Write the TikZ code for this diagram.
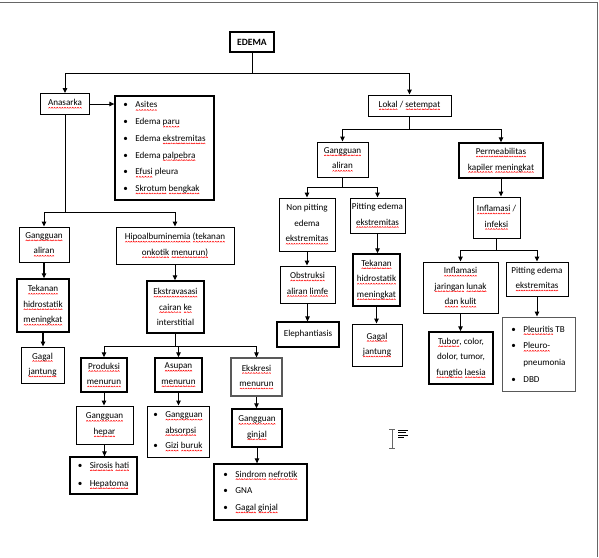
\documentclass[tikz,border=0pt]{standalone}
\usepackage{fontspec}
\setmainfont{Carlito}
\usetikzlibrary{arrows.meta}
\newsavebox\wavebox
\newsavebox\sqtext
\newcommand\sq[1]{\sbox\sqtext{#1}\leavevmode\rlap{\raisebox{-2.8pt}{\hbox to \wd\sqtext{\xleaders\copy\wavebox\hfill}}}\usebox\sqtext}
\newcommand\fsbox{\fontsize{9.1}{15.5}\selectfont}
\newcommand\fslist{\fontsize{9.1}{16.7}\selectfont}
\newcommand\bl[1]{\makebox[12pt][l]{\textbullet}#1}
\tikzset{
  box/.style={draw, line width=0.9pt, inner sep=1pt, align=center, font=\fsbox},
  tbox/.style={box, line width=1.5pt},
  gbox/.style={box, draw=black!65},
  lbox/.style={draw, line width=1.3pt, inner sep=1pt, align=left, font=\fslist},
  arr/.style={-{Triangle[length=5pt,width=4.5pt]}, line width=1pt},
  ln/.style={line width=1pt}
}
\begin{document}
\sbox\wavebox{\begin{pgfpicture}\pgfsetlinewidth{0.5pt}\pgfsetstrokecolor{red}\pgfpathmoveto{\pgfpoint{0pt}{0pt}}\pgfpathlineto{\pgfpoint{1pt}{1pt}}\pgfpathlineto{\pgfpoint{2pt}{0pt}}\pgfusepath{stroke}\end{pgfpicture}}%
\begin{tikzpicture}[x=1pt,y=-1pt]
\useasboundingbox (0,0) rectangle (599,557);
\fill[white] (0,0) rectangle (599,557);
\draw[black!60, line width=1.5pt] (0,2.5) -- (597.5,2.5) -- (597.5,557);

% left branch
\node[tbox, minimum width=44, minimum height=20, font=\fontsize{9.6}{12}\selectfont\bfseries] (edema) at (252,42) {EDEMA};
\node[box, minimum width=49, minimum height=21] (anasarka) at (65,104) {\sq{Anasarka}};
\node[lbox, minimum width=99, minimum height=104] (alist) at (164.5,148)
  {\bl{\sq{Asites}}\\\bl{Edema \sq{paru}}\\\bl{Edema \sq{ekstremitas}}\\\bl{Edema \sq{palpebra}}\\\bl{\sq{Efusi} pleura}\\\bl{\sq{Skrotum} \sq{bengkak}}};
\node[box, minimum width=50, minimum height=35] (galiL) at (44,244.5) {\sq{Gangguan}\\\sq{aliran}};
\node[tbox, minimum width=52, minimum height=53] (tekL) at (43,305.5) {\sq{Tekanan}\\\sq{hidrostatik}\\\sq{meningkat}};
\node[box, minimum width=43, minimum height=36] (gagL) at (42.5,365) {\sq{Gagal}\\\sq{jantung}};
\node[box, minimum width=118, minimum height=37] (hipo) at (175,245.5) {\sq{Hipoalbuminemia} \sq{(tekanan}\\\sq{onkotik} \sq{menurun)}};
\node[tbox, minimum width=57, minimum height=52] (ekstra) at (175.5,307) {\sq{Ekstravasasi}\\\sq{cairan} \sq{ke}\\interstitial};
\node[tbox, minimum width=46, minimum height=34] (prod) at (104,375) {\sq{Produksi}\\\sq{menurun}};
\node[tbox, minimum width=47, minimum height=34] (asup) at (178.5,375) {\sq{Asupan}\\\sq{menurun}};
\node[gbox, line width=1.2pt, minimum width=51, minimum height=38] (ekskr) at (256.5,377) {\sq{Ekskresi}\\\sq{menurun}};
\node[box, minimum width=57, minimum height=38] (ghepar) at (104.5,425) {\sq{Gangguan}\\\sq{hepar}};
\node[lbox, minimum width=67, minimum height=37, font=\fontsize{9.1}{18}\selectfont] (hlist) at (103.5,475.5) {\bl{\sq{Sirosis} \sq{hati}}\\\bl{\sq{Hepatoma}}};
\node[lbox, line width=1pt, minimum width=62, minimum height=51, font=\fontsize{9.1}{15.5}\selectfont] (alist2) at (178,431.5) {\bl{\sq{Gangguan}}\\\hspace*{12pt}\sq{absorpsi}\\\bl{\sq{Gizi} \sq{buruk}}};
\node[tbox, minimum width=50, minimum height=38] (gginjal) at (257,428) {\sq{Gangguan}\\\sq{ginjal}};
\node[lbox, minimum width=93, minimum height=56] (glist) at (260.5,492) {\bl{\sq{Sindrom} \sq{nefrotik}}\\\bl{GNA}\\\bl{\sq{Gagal} \sq{ginjal}}};

% right branch
\node[box, minimum width=83, minimum height=21] (lokal) at (409.5,105.5) {\sq{Lokal} / \sq{setempat}};
\node[box, minimum width=51, minimum height=35] (galiR) at (342.5,159.5) {\sq{Gangguan}\\\sq{aliran}};
\node[tbox, minimum width=84, minimum height=35] (perm) at (501,160.5) {\sq{Permeabilitas}\\\sq{kapiler} \sq{meningkat}};
\node[box, minimum width=56, minimum height=53] (nonpit) at (307,224.5) {Non pitting\\edema\\\sq{ekstremitas}};
\node[box, minimum width=55, minimum height=35] (pit) at (377.5,215.5) {Pitting edema\\\sq{ekstremitas}};
\node[box, minimum width=55, minimum height=37] (obs) at (307.5,284.5) {\sq{Obstruksi}\\\sq{aliran} \sq{limfe}};
\node[tbox, line width=1.2pt, minimum width=62, minimum height=25] (eleph) at (308,334.5) {Elephantiasis};
\node[tbox, minimum width=47, minimum height=52] (tekR) at (376.5,280) {\sq{Tekanan}\\\sq{hidrostatik}\\\sq{meningkat}};
\node[box, minimum width=50, minimum height=42] (gagR) at (377,345) {\sq{Gagal}\\\sq{jantung}};
\node[box, minimum width=47, minimum height=41] (infl) at (496.5,217.5) {\sq{Inflamasi} /\\\sq{infeksi}};
\node[box, minimum width=75, minimum height=51] (injar) at (460.5,287.5) {\sq{Inflamasi}\\\sq{jaringan} \sq{lunak}\\\sq{dan} \sq{kulit}};
\node[box, minimum width=62, minimum height=34] (pit2) at (537,279) {Pitting edema\\\sq{ekstremitas}};
\node[tbox, minimum width=64, minimum height=52] (tubor) at (461,358) {\sq{Tubor}, color,\\dolor, tumor,\\\sq{fungtio} \sq{laesia}};
\node[lbox, line width=1pt, draw=black!65, minimum width=73, minimum height=74] (plist) at (538.5,354) {\bl{\sq{Pleuritis} TB}\\\bl{\sq{Pleuro-}}\\\hspace*{12pt}pneumonia\\\bl{DBD}};

% junction points
\coordinate (j1) at (252,73);
\coordinate (j2) at (65,212);
\coordinate (j3) at (175.5,346);
\coordinate (j4) at (409.5,129);
\coordinate (j5) at (342.5,187);
\coordinate (j6) at (496.5,250);

% connectors
\draw[ln] (edema.south) -- (j1);
\draw[arr] (j1) -| (anasarka.north);
\draw[arr] (j1) -| (lokal.north);
\draw[arr] (anasarka.east) -- (alist.west |- anasarka.east);
\draw[ln] (anasarka.south) -- (j2);
\draw[arr] (j2) -| (galiL.north);
\draw[arr] (j2) -| (hipo.north);
\draw[arr, line width=1.5pt] (galiL.south) -- (galiL.south |- tekL.north);
\draw[arr, line width=1.5pt] (tekL.south) -- (tekL.south |- gagL.north);
\draw[arr] (hipo.south) -- (hipo.south |- ekstra.north);
\draw[ln] (ekstra.south) -- (j3);
\draw[arr] (j3) -| (prod.north);
\draw[arr] (j3) -| (asup.north);
\draw[arr] (j3) -| (ekskr.north);
\draw[arr] (prod.south) -- (prod.south |- ghepar.north);
\draw[arr] (ghepar.south) -- (ghepar.south |- hlist.north);
\draw[arr] (asup.south) -- (asup.south |- alist2.north);
\draw[arr] (ekskr.south) -- (ekskr.south |- gginjal.north);
\draw[arr] (gginjal.south) -- (gginjal.south |- glist.north);

\draw[ln] (lokal.south) -- (j4);
\draw[arr] (j4) -| (galiR.north);
\draw[arr] (j4) -| (perm.north);
\draw[ln] (galiR.south) -- (j5);
\draw[arr] (j5) -| (nonpit.north);
\draw[arr] (j5) -| (pit.north);
\draw[arr] (nonpit.south) -- (nonpit.south |- obs.north);
\draw[arr] (obs.south) -- (obs.south |- eleph.north);
\draw[arr] (pit.south) -- (pit.south |- tekR.north);
\draw[arr] (tekR.south) -- (tekR.south |- gagR.north);
\draw[arr] (perm.south) -- (perm.south |- infl.north);
\draw[ln] (infl.south) -- (j6);
\draw[arr] (j6) -| (injar.north);
\draw[arr] (j6) -| (pit2.north);
\draw[arr] (injar.south) -- (injar.south |- tubor.north);
\draw[arr] (pit2.south) -- (pit2.south |- plist.north);

% text cursor marks
\draw[black!60, line width=0.8pt] (392,429) -- (392,448) (389,429) -- (395,429) (389,448) -- (395,448);
\draw[line width=1pt] (398,430) -- (408,430) (398,432.5) -- (406,432.5) (398,435) -- (408,435) (398,437.5) -- (404,437.5);
\end{tikzpicture}
\end{document}
